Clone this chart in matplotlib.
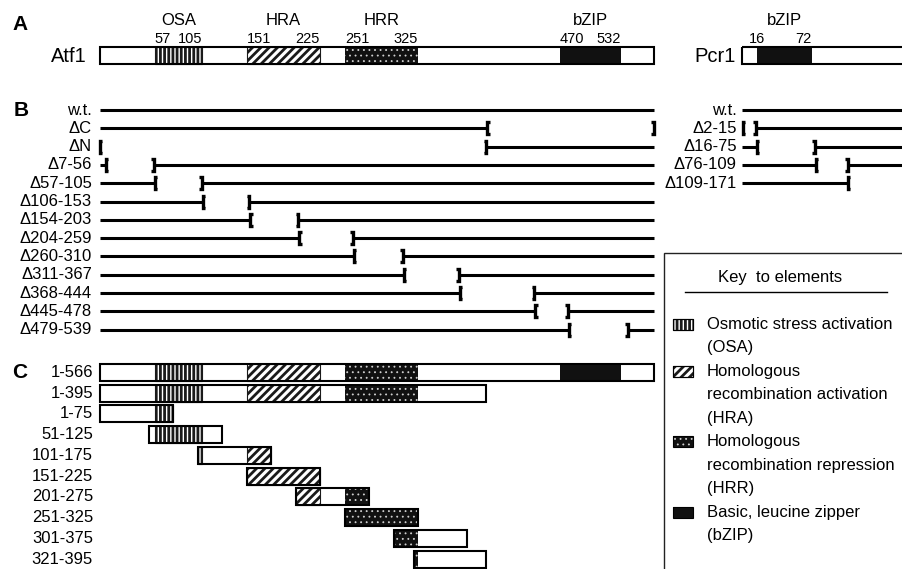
import matplotlib
matplotlib.use("Agg")
import matplotlib.pyplot as plt
from matplotlib.patches import Rectangle

plt.rcParams['font.family'] = ['Liberation Sans', 'DejaVu Sans']
plt.rcParams['hatch.linewidth'] = 2.0

# ---- data ----
atf1_len = 566
pcr1_len = 171

domain_names = ['OSA', 'HRA', 'HRR', 'bZIP']
atf1_dom_start = [57, 151, 251, 470]
atf1_dom_end = [105, 225, 325, 532]
pcr1_dom_names = ['bZIP']
pcr1_dom_start = [16]
pcr1_dom_end = [72]

atf1_del_labels = ['w.t.', 'ΔC', 'ΔN', 'Δ7-56', 'Δ57-105', 'Δ106-153', 'Δ154-203',
                   'Δ204-259', 'Δ260-310', 'Δ311-367', 'Δ368-444', 'Δ445-478', 'Δ479-539']
atf1_del_start = [None, 396, 1, 7, 57, 106, 154, 204, 260, 311, 368, 445, 479]
atf1_del_end = [None, 566, 395, 56, 105, 153, 203, 259, 310, 367, 444, 478, 539]

pcr1_del_labels = ['w.t.', 'Δ2-15', 'Δ16-75', 'Δ76-109', 'Δ109-171']
pcr1_del_start = [None, 2, 16, 76, 109]
pcr1_del_end = [None, 15, 75, 109, 171]

frag_labels = ['1-566', '1-395', '1-75', '51-125', '101-175', '151-225',
               '201-275', '251-325', '301-375', '321-395']
frag_start = [1, 1, 1, 51, 101, 151, 201, 251, 301, 321]
frag_end = [566, 395, 75, 125, 175, 225, 275, 325, 375, 395]

legend_text = [('OSA', ['Osmotic stress activation', '(OSA)']),
               ('HRA', ['Homologous', 'recombination activation', '(HRA)']),
               ('HRR', ['Homologous', 'recombination repression', '(HRR)']),
               ('bZIP', ['Basic, leucine zipper', '(bZIP)'])]

# ---- layout (x in Atf1 residues, y in pixel rows) ----
PX_PER_RES = 554 / 565


def px(p):
    return 1 + (p - 100) / PX_PER_RES


PCR1_OFF = px(742) - 1
BAR_H = 17
B_Y0, B_STEP = 110, 18.3
C_Y0, C_STEP = 372.3, 20.75


def draw_domain(ax, x0, x1, y, name, h=BAR_H):
    if name == 'HRR':
        ax.add_patch(Rectangle((x0, y - h / 2), x1 - x0, h, fc='#111111', ec='none'))
        dots = Rectangle((x0, y - h / 2), x1 - x0, h, fc='none', ec='#d0d0d0',
                         lw=0, hatch='...')
        if hasattr(dots, 'set_hatch_linewidth'):
            dots.set_hatch_linewidth(0.6)
        ax.add_patch(dots)
    elif name == 'bZIP':
        ax.add_patch(Rectangle((x0, y - h / 2), x1 - x0, h, fc='#111111', ec='none'))
    else:
        hatch = '||||' if name == 'OSA' else '////'
        ax.add_patch(Rectangle((x0, y - h / 2), x1 - x0, h, fc='white', ec='#1a1a1a',
                               lw=0.8, hatch=hatch))


def draw_construct(ax, y, start, end, dstart, dend, dnames, off=0):
    ax.add_patch(Rectangle((start + off, y - BAR_H / 2), end - start, BAR_H, fc='white', ec='none'))
    for s, e, n in zip(dstart, dend, dnames):
        s2, e2 = max(s, start), min(e, end)
        if s2 < e2:
            draw_domain(ax, s2 + off, e2 + off, y, n)
    ax.add_patch(Rectangle((start + off, y - BAR_H / 2), end - start, BAR_H, fc='none',
                           ec='black', lw=1.5))


def bracket(ax, x, y, side):
    serif = 2.5 / PX_PER_RES
    ax.plot([x + side * serif, x, x, x + side * serif], [y - 6, y - 6, y + 6, y + 6],
            color='black', lw=2.4, solid_joinstyle='miter', solid_capstyle='butt')


def deletion_row(ax, y, s, e, length, off=0):
    kw = dict(color='black', lw=2.2, solid_capstyle='butt')
    if s is None:
        ax.plot([1 + off, length + off], [y, y], **kw)
        return
    if s > 1:
        ax.plot([1 + off, s + off], [y, y], **kw)
    if e < length:
        ax.plot([e + off, length + off], [y, y], **kw)
    bracket(ax, s + off, y, 1)
    bracket(ax, e + off, y, -1)


fig = plt.figure(figsize=(9.03, 5.69), dpi=100)
ax = fig.add_axes([0, 0, 1, 1])
ax.set_xlim(px(0), px(903))
ax.set_ylim(569, 0)
ax.axis('off')

# ---- panel A ----
ax.text(px(20), 24, 'A', fontsize=15, fontweight='bold', ha='center', va='center')
ax.text(px(87), 56, 'Atf1', fontsize=14.5, ha='right', va='center')
draw_construct(ax, 55.5, 1, atf1_len, atf1_dom_start, atf1_dom_end, domain_names)
for s, e, n in zip(atf1_dom_start, atf1_dom_end, domain_names):
    ax.text((s + e) / 2, 20, n, fontsize=12, ha='center', va='center')
    ax.text(s, 39, str(s), fontsize=10.5, ha='left', va='center')
    ax.text(e, 39, str(e), fontsize=10.5, ha='right', va='center')

ax.text(px(736), 56, 'Pcr1', fontsize=14.5, ha='right', va='center')
draw_construct(ax, 55.5, 1, pcr1_len, pcr1_dom_start, pcr1_dom_end, pcr1_dom_names, PCR1_OFF)
for s, e, n in zip(pcr1_dom_start, pcr1_dom_end, pcr1_dom_names):
    ax.text((s + e) / 2 + PCR1_OFF, 20, n, fontsize=12, ha='center', va='center')
    ax.text(s + PCR1_OFF - 8, 39, str(s), fontsize=10.5, ha='left', va='center')
    ax.text(e + PCR1_OFF, 39, str(e), fontsize=10.5, ha='right', va='center')

# ---- panel B ----
ax.text(px(21), 110, 'B', fontsize=15, fontweight='bold', ha='center', va='center')
for i, (lab, s, e) in enumerate(zip(atf1_del_labels, atf1_del_start, atf1_del_end)):
    y = B_Y0 + i * B_STEP
    ax.text(px(92), y, lab, fontsize=12, ha='right', va='center')
    deletion_row(ax, y, s, e, atf1_len)
for i, (lab, s, e) in enumerate(zip(pcr1_del_labels, pcr1_del_start, pcr1_del_end)):
    y = B_Y0 + i * B_STEP
    ax.text(px(737), y, lab, fontsize=12, ha='right', va='center')
    deletion_row(ax, y, s, e, pcr1_len, PCR1_OFF)

# ---- panel C ----
ax.text(px(20), 372, 'C', fontsize=15, fontweight='bold', ha='center', va='center')
for i, (lab, s, e) in enumerate(zip(frag_labels, frag_start, frag_end)):
    y = C_Y0 + i * C_STEP
    ax.text(px(93), y, lab, fontsize=12, ha='right', va='center')
    draw_construct(ax, y, s, e, atf1_dom_start, atf1_dom_end, domain_names)

# ---- key ----
ax.add_patch(Rectangle((px(664), 253), px(920) - px(664), 340, fc='white', ec='#222222', lw=1.0))
ax.text(px(780), 277, 'Key  to elements', fontsize=12, ha='center', va='center')
ax.plot([px(685), px(887)], [292, 292], color='black', lw=1.0)
line = 0
for name, lines in legend_text:
    y0 = 324 + line * 23.5
    draw_domain(ax, px(673), px(693), y0, name, h=11)
    ax.add_patch(Rectangle((px(673), y0 - 5.5), px(693) - px(673), 11, fc='none', ec='black', lw=0.8))
    for t in lines:
        ax.text(px(707), 324 + line * 23.5, t, fontsize=12, ha='left', va='center')
        line += 1

fig.savefig('out.png', dpi=100)
